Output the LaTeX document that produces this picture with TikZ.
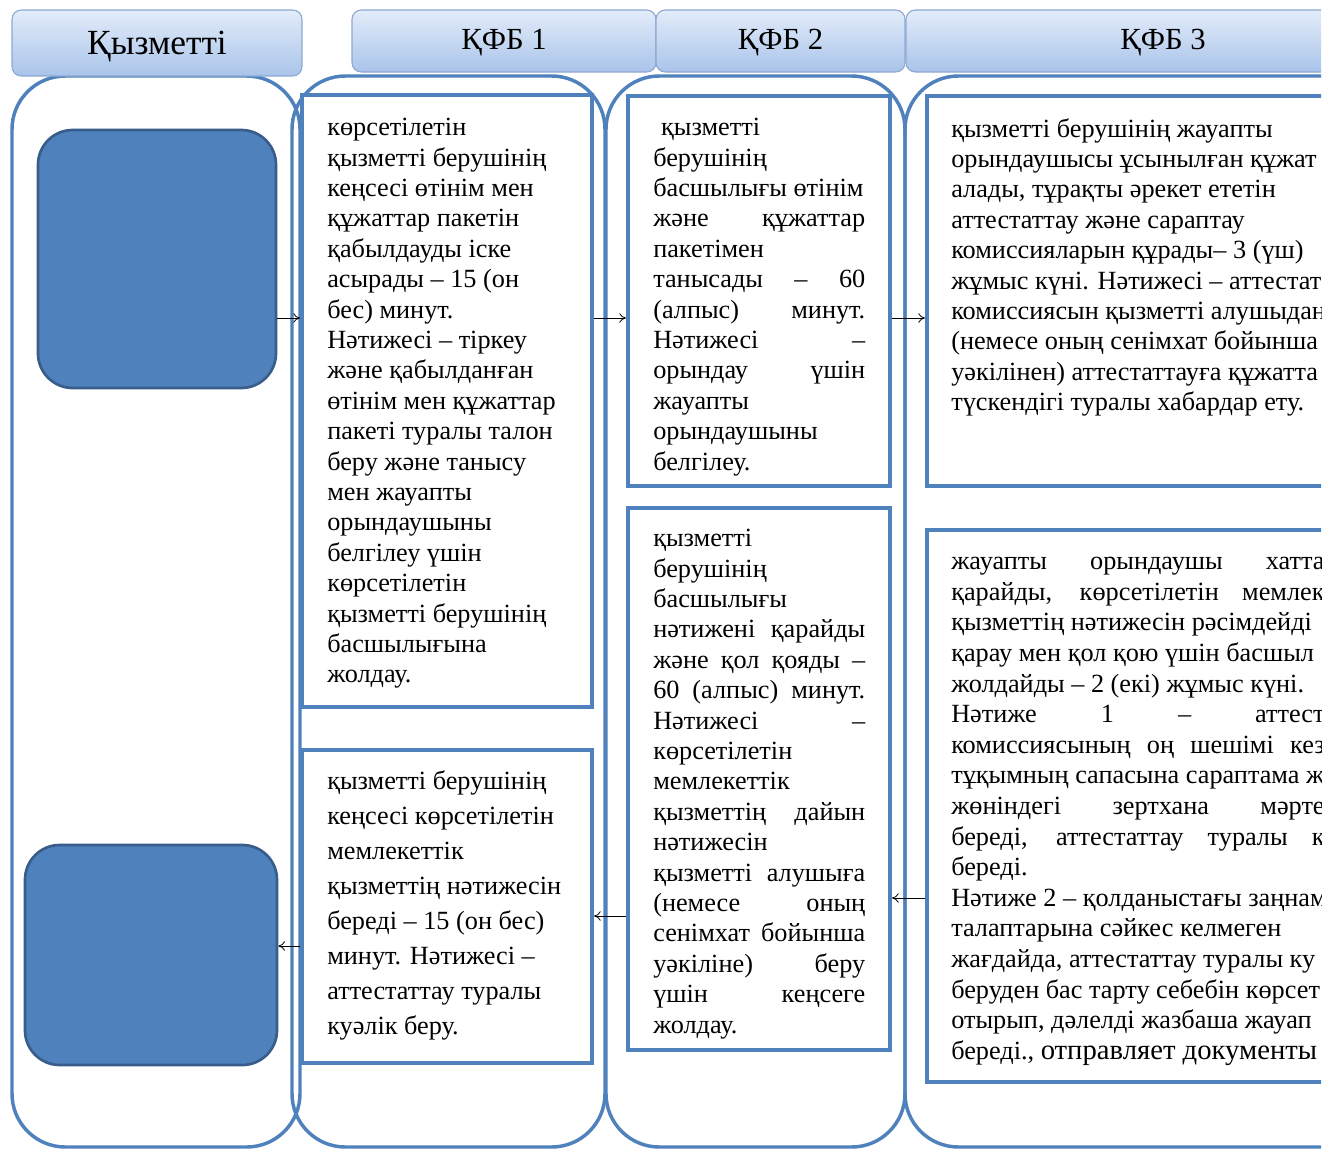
\documentclass[tikz,border=0pt]{standalone}
\usepackage{fontspec}
\setmainfont{Liberation Serif}
\usetikzlibrary{arrows.meta, positioning, fit}

\definecolor{laneblue}{HTML}{4F81BD}
\definecolor{darkblue}{HTML}{385D8A}
\definecolor{tabtop}{HTML}{E3ECF9}
\definecolor{tabbottom}{HTML}{A9C4EA}
\definecolor{tabline}{HTML}{8DA9D2}

\setlength{\parindent}{0pt}
\newcommand{\jl}[2][159pt]{\makebox[#1][s]{#2}}

\begin{document}
\begin{tikzpicture}[
    x=0.75pt, y=-0.75pt,
    lane/.style={draw=laneblue, line width=2.6pt, rounded corners=40pt, inner sep=0pt},
    tab/.style={draw=tabline, line width=0.8pt, rounded corners=7pt, top color=tabtop, bottom color=tabbottom, inner sep=0pt},
    actor/.style={draw=darkblue, line width=2pt, fill=laneblue, rounded corners=26pt, inner sep=0pt},
    stepbox/.style={draw=laneblue, line width=3pt, fill=white, inner sep=0pt},
    txt/.style={anchor=north west, inner sep=0pt, align=left, font=\fontsize{19.7}{22.8}\selectfont},
    arrow/.style={-{To[length=5pt, width=7pt]}, semithick}
]

\path[fill=white, use as bounding box] (0,0) rectangle (1339,1150);

\begin{scope}
\clip (0,0) rectangle (1321,1150);

% Lanes
\node[lane, fit={(12,76) (300,1147)}] (lclient) {};
\node[lane, fit={(292,76) (605,1147)}] (lsf1) {};
\node[lane, fit={(606,76) (905,1147)}] (lsf2) {};
\node[lane, fit={(905,76) (1440,1147)}] (lsf3) {};

% Header tabs
\node[tab, fit={(12,10) (302,76)}, label={[font=\fontsize{26.5}{30}\selectfont, yshift=-3pt]center:Қызметті}] (hclient) {};
\node[tab, fit={(352,10) (656,72)}, label={[font=\fontsize{23}{26}\selectfont, yshift=-1pt]center:ҚФБ 1}] (hsf1) {};
\node[tab, fit={(656,10) (905,72)}, label={[font=\fontsize{23}{26}\selectfont, yshift=-1pt]center:ҚФБ 2}] (hsf2) {};
\node[tab, fit={(906,10) (1420,72)}, label={[font=\fontsize{23}{26}\selectfont, yshift=-1pt]center:ҚФБ 3}] (hsf3) {};

% Service receiver
\node[actor, fit={(38,130) (276,388)}] (start) {};
\node[actor, fit={(25,845) (277,1065)}] (finish) {};

% Steps
\node[stepbox, fit={(302,95) (592,707)}] (recv) {};
\node[stepbox, fit={(302,750) (592,1063)}] (issue) {};
\node[stepbox, fit={(628,96) (890,486)}] (review) {};
\node[stepbox, fit={(628,508) (890,1050)}] (sign) {};
\node[stepbox, fit={(927,96) (1440,486)}] (assign) {};
\node[stepbox, fit={(927,530) (1440,1082)}] (decide) {};

% Texts
\node[txt] (recvtext) at (327,118) {көрсетілетін\\
қызметті берушінің\\
кеңсесі өтінім мен\\
құжаттар пакетін\\
қабылдауды іске\\
асырады – 15 (он\\
бес) минут.\\
Нәтижесі – тіркеу\\
және қабылданған\\
өтінім мен құжаттар\\
пакеті туралы талон\\
беру және танысу\\
мен жауапты\\
орындаушыны\\
белгілеу үшін\\
көрсетілетін\\
қызметті берушінің\\
басшылығына\\
жолдау.};

\node[txt, font=\fontsize{19.7}{26.3}\selectfont] (issuetext) at (327,770) {қызметті берушінің\\
кеңсесі көрсетілетін\\
мемлекеттік\\
қызметтің нәтижесін\\
береді – 15 (он бес)\\
минут. Нәтижесі –\\
аттестаттау туралы\\
куәлік беру.};

\node[txt] (reviewtext) at (653,118) {\hspace*{0.3em}қызметті\\
берушінің\\
басшылығы өтінім\\
\jl{және құжаттар}\\
пакетімен\\
\jl{танысады – 60}\\
\jl{(алпыс) минут.}\\
\jl{Нәтижесі –}\\
\jl{орындау үшін}\\
жауапты\\
орындаушыны\\
белгілеу.};

\node[txt] (signtext) at (653,529) {қызметті\\
берушінің\\
басшылығы\\
\jl{нәтижені қарайды}\\
\jl{және қол қояды –}\\
\jl{60 (алпыс) минут.}\\
\jl{Нәтижесі –}\\
көрсетілетін\\
мемлекеттік\\
\jl{қызметтің дайын}\\
нәтижесін\\
\jl{қызметті алушыға}\\
\jl{(немесе оның}\\
\jl{сенімхат бойынша}\\
\jl{уәкіліне) беру}\\
\jl{үшін кеңсеге}\\
жолдау.};

\node[txt] (assigntext) at (951,118) {қызметті берушінің жауапты\\
орындаушысы ұсынылған құжат\\
алады, тұрақты әрекет ететін\\
аттестаттау және сараптау\\
комиссияларын құрады– 3 (үш)\\
жұмыс күні. Нәтижесі – аттестат\\
комиссиясын қызметті алушыдан\\
(немесе оның сенімхат бойынша\\
уәкілінен) аттестаттауға құжатта\\
түскендігі туралы хабардар ету.};

\node[txt, font=\fontsize{19.7}{22.95}\selectfont] (decidetext) at (951,557) {\jl[280pt]{жауапты орындаушы хатта}\\
\jl[280pt]{қарайды, көрсетілетін мемлек}\\
қызметтің нәтижесін рәсімдейді\\
қарау мен қол қою үшін басшыл\\
жолдайды – 2 (екі) жұмыс күні.\\
\jl[280pt]{Нәтиже 1 – аттест}\\
\jl[280pt]{комиссиясының оң шешімі кез}\\
тұқымның сапасына сараптама ж\\
\jl[280pt]{жөніндегі зертхана мәрте}\\
\jl[280pt]{береді, аттестаттау туралы к}\\
береді.\\
Нәтиже 2 – қолданыстағы заңнам\\
талаптарына сәйкес келмеген\\
жағдайда, аттестаттау туралы ку\\
беруден бас тарту себебін көрсет\\
отырып, дәлелді жазбаша жауап\\
береді., {\fontsize{21.5}{22.95}\selectfont отправляет документы}};

% Arrows
\coordinate (toprow) at (0,318);
\coordinate (backrow) at (0,898);
\coordinate (outrow) at (0,916);
\coordinate (endrow) at (0,946);

\draw[arrow] (start.east |- toprow) -- (recv.west |- toprow);
\draw[arrow] (recv.east |- toprow) -- (review.west |- toprow);
\draw[arrow] (review.east |- toprow) -- (assign.west |- toprow);
\draw[arrow] (decide.west |- backrow) -- (sign.east |- backrow);
\draw[arrow] (sign.west |- outrow) -- (issue.east |- outrow);
\draw[arrow] (issue.west |- endrow) -- (finish.east |- endrow);

\end{scope}

\end{tikzpicture}
\end{document}
